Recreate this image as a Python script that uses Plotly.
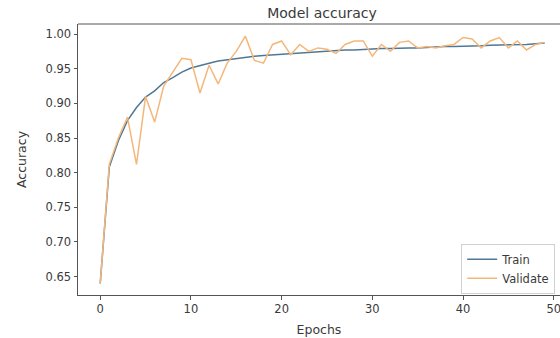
import plotly.graph_objects as go

epochs = list(range(50))
train_acc = [0.640, 0.808, 0.846, 0.875, 0.894, 0.909, 0.918, 0.930, 0.937, 0.945,
             0.951, 0.955, 0.958, 0.961, 0.963, 0.965, 0.967, 0.968, 0.969, 0.970,
             0.971, 0.972, 0.973, 0.974, 0.975, 0.975, 0.976, 0.977, 0.977, 0.978,
             0.978, 0.979, 0.979, 0.980, 0.980, 0.980, 0.981, 0.981, 0.982, 0.982,
             0.982, 0.983, 0.983, 0.984, 0.984, 0.984, 0.985, 0.985, 0.986, 0.987]
val_acc = [0.640, 0.812, 0.850, 0.880, 0.812, 0.910, 0.873, 0.925, 0.945, 0.965,
           0.963, 0.915, 0.955, 0.928, 0.958, 0.975, 0.997, 0.962, 0.958, 0.985,
           0.990, 0.970, 0.985, 0.975, 0.980, 0.978, 0.972, 0.985, 0.990, 0.990,
           0.968, 0.985, 0.975, 0.988, 0.990, 0.980, 0.982, 0.980, 0.983, 0.985,
           0.995, 0.993, 0.980, 0.990, 0.995, 0.980, 0.990, 0.977, 0.985, 0.988]
x_ticks = [0, 10, 20, 30, 40, 50]
y_ticks = [0.65, 0.70, 0.75, 0.80, 0.85, 0.90, 0.95, 1.00]

font_family = "DejaVu Sans"
text_color = "#3a3a3a"

fig = go.Figure()
fig.add_trace(go.Scatter(x=epochs, y=train_acc, mode="lines", name="Train",
                         line=dict(color="#4f7896", width=1.5)))
fig.add_trace(go.Scatter(x=epochs, y=val_acc, mode="lines", name="Validate",
                         line=dict(color="#f4b77a", width=1.5)))

fig.update_layout(
    width=560, height=338,
    margin=dict(l=78, r=0, t=24, b=43),
    paper_bgcolor="white", plot_bgcolor="white",
    font=dict(family=font_family, size=11.5, color=text_color),
    title=dict(text="Model accuracy", x=(322) / 560, xanchor="center",
               y=1 - 13 / 338, yanchor="middle",
               font=dict(size=14, color=text_color)),
    showlegend=True,
    legend=dict(x=0.99, y=0.005, xanchor="right", yanchor="bottom",
                bgcolor="white", bordercolor="#d0d0d0", borderwidth=1,
                itemwidth=30, font=dict(size=11.5, color=text_color)),
    xaxis=dict(range=[-2.45, 50.69], tickvals=x_ticks, showgrid=False, zeroline=False,
               showline=True, linecolor="#555", linewidth=1,
               ticks="outside", ticklen=3.5, tickcolor="#555",
               ticklabeloverflow="allow",
               title=dict(text="Epochs", font=dict(size=12.5, color=text_color), standoff=9)),
    yaxis=dict(range=[0.6235, 1.0145], tickvals=y_ticks, tickformat=".2f",
               showgrid=False, zeroline=False,
               showline=True, linecolor="#555", linewidth=1,
               ticks="outside", ticklen=3.5, tickcolor="#555",
               title=dict(text="Accuracy", font=dict(size=12.5, color=text_color), standoff=16)),
    shapes=[dict(type="line", xref="paper", yref="paper", x0=0, x1=1, y0=1, y1=1,
                 line=dict(color="#555", width=1))],
)

fig.write_html("out.html")
